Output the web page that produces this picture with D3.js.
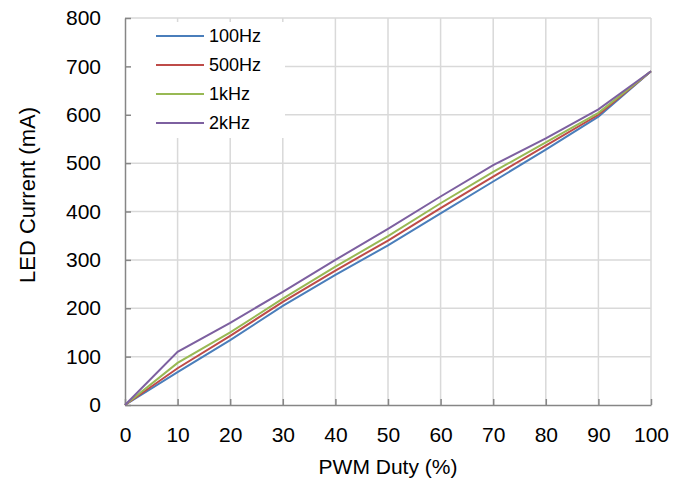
<!DOCTYPE html>
<html lang="en">
<head>
    <meta charset="UTF-8">
    <title>LED Current vs PWM Duty</title>
    <style>
        body { margin: 0; background: #fff; }
        svg text { font-family: "Liberation Sans", Arial, sans-serif; fill: #000; }
    </style>
</head>
<body>
    <div id="chart"></div>
    <script src="https://d3js.org/d3.v7.min.js"></script>
    <script>
        // Chart data
        const duty = [0, 10, 20, 30, 40, 50, 60, 70, 80, 90, 100];
        const i100Hz = [0, 68, 134, 205, 269, 330, 396, 462, 528, 596, 690];
        const i500Hz = [0, 76, 143, 213, 278, 340, 407, 472, 536, 600, 690];
        const i1kHz = [0, 87, 150, 220, 286, 349, 417, 482, 543, 604, 690];
        const i2kHz = [0, 110, 170, 234, 300, 364, 431, 496, 551, 611, 690];
        const seriesNames = ["100Hz", "500Hz", "1kHz", "2kHz"];
        const xTicks = [0, 10, 20, 30, 40, 50, 60, 70, 80, 90, 100];
        const yTicks = [0, 100, 200, 300, 400, 500, 600, 700, 800];

        const colors = ["#4a7ebb", "#be4b48", "#98b954", "#7d60a0"];
        const series = [i100Hz, i500Hz, i1kHz, i2kHz];

        const W = 681, H = 484;
        const margin = { top: 18, right: 30, bottom: 79, left: 125 };

        const svg = d3.select("#chart").append("svg")
            .attr("width", W).attr("height", H);

        const x = d3.scaleLinear().domain([0, 100]).range([margin.left, W - margin.right]);
        const y = d3.scaleLinear().domain([0, 800]).range([H - margin.bottom, margin.top]);

        // Grid lines
        const grid = svg.append("g");
        grid.selectAll(".vgrid").data(xTicks.slice(1))
            .enter().append("line")
            .attr("x1", d => x(d)).attr("x2", d => x(d))
            .attr("y1", y(0)).attr("y2", y(800))
            .style("stroke", "#d9d9d9").style("stroke-width", 1.5);
        grid.selectAll(".hgrid").data(yTicks.slice(1))
            .enter().append("line")
            .attr("x1", x(0)).attr("x2", x(100))
            .attr("y1", d => y(d)).attr("y2", d => y(d))
            .style("stroke", "#d9d9d9").style("stroke-width", 1.5);

        // Legend background covers the grid
        svg.append("rect")
            .attr("x", x(0) + 1).attr("y", 22)
            .attr("width", 159).attr("height", 116)
            .style("fill", "#fff");

        // Axes
        const xAxis = d3.axisBottom(x).tickValues(xTicks).tickSizeInner(-6).tickSizeOuter(0).tickPadding(22);
        const yAxis = d3.axisLeft(y).tickValues(yTicks).tickSizeInner(-6).tickSizeOuter(0).tickPadding(24);

        const gx = svg.append("g").attr("transform", `translate(0,${y(0)})`).call(xAxis);
        const gy = svg.append("g").attr("transform", `translate(${x(0)},0)`).call(yAxis);
        [gx, gy].forEach(g => {
            g.selectAll("path, line").style("stroke", "#868686").style("stroke-width", 1.5);
            g.selectAll("text").style("font-size", "21px").style("font-family", "'Liberation Sans', Arial, sans-serif");
        });

        // Lines
        const line = d3.line()
            .x((d, i) => x(duty[i]))
            .y(d => y(d));

        svg.selectAll(".series").data(series)
            .enter().append("path")
            .attr("d", d => line(d))
            .style("fill", "none")
            .style("stroke", (d, i) => colors[i])
            .style("stroke-width", 2);

        // Legend
        const legend = svg.append("g").attr("transform", "translate(156,36)");
        const items = legend.selectAll(".item").data(seriesNames)
            .enter().append("g")
            .attr("transform", (d, i) => `translate(0,${i * 29})`);
        items.append("line")
            .attr("x1", 0).attr("x2", 48)
            .style("stroke", (d, i) => colors[i]).style("stroke-width", 2);
        items.append("text")
            .attr("x", 53).attr("y", 6)
            .style("font-size", "18px")
            .text(d => d);

        // Axis titles
        svg.append("text")
            .attr("x", x(50)).attr("y", 474)
            .attr("text-anchor", "middle")
            .style("font-size", "21px")
            .text("PWM Duty (%)");
        svg.append("text")
            .attr("transform", `translate(35,195) rotate(-90)`)
            .attr("text-anchor", "middle")
            .style("font-size", "22px")
            .text("LED Current (mA)");
    </script>
</body>
</html>
